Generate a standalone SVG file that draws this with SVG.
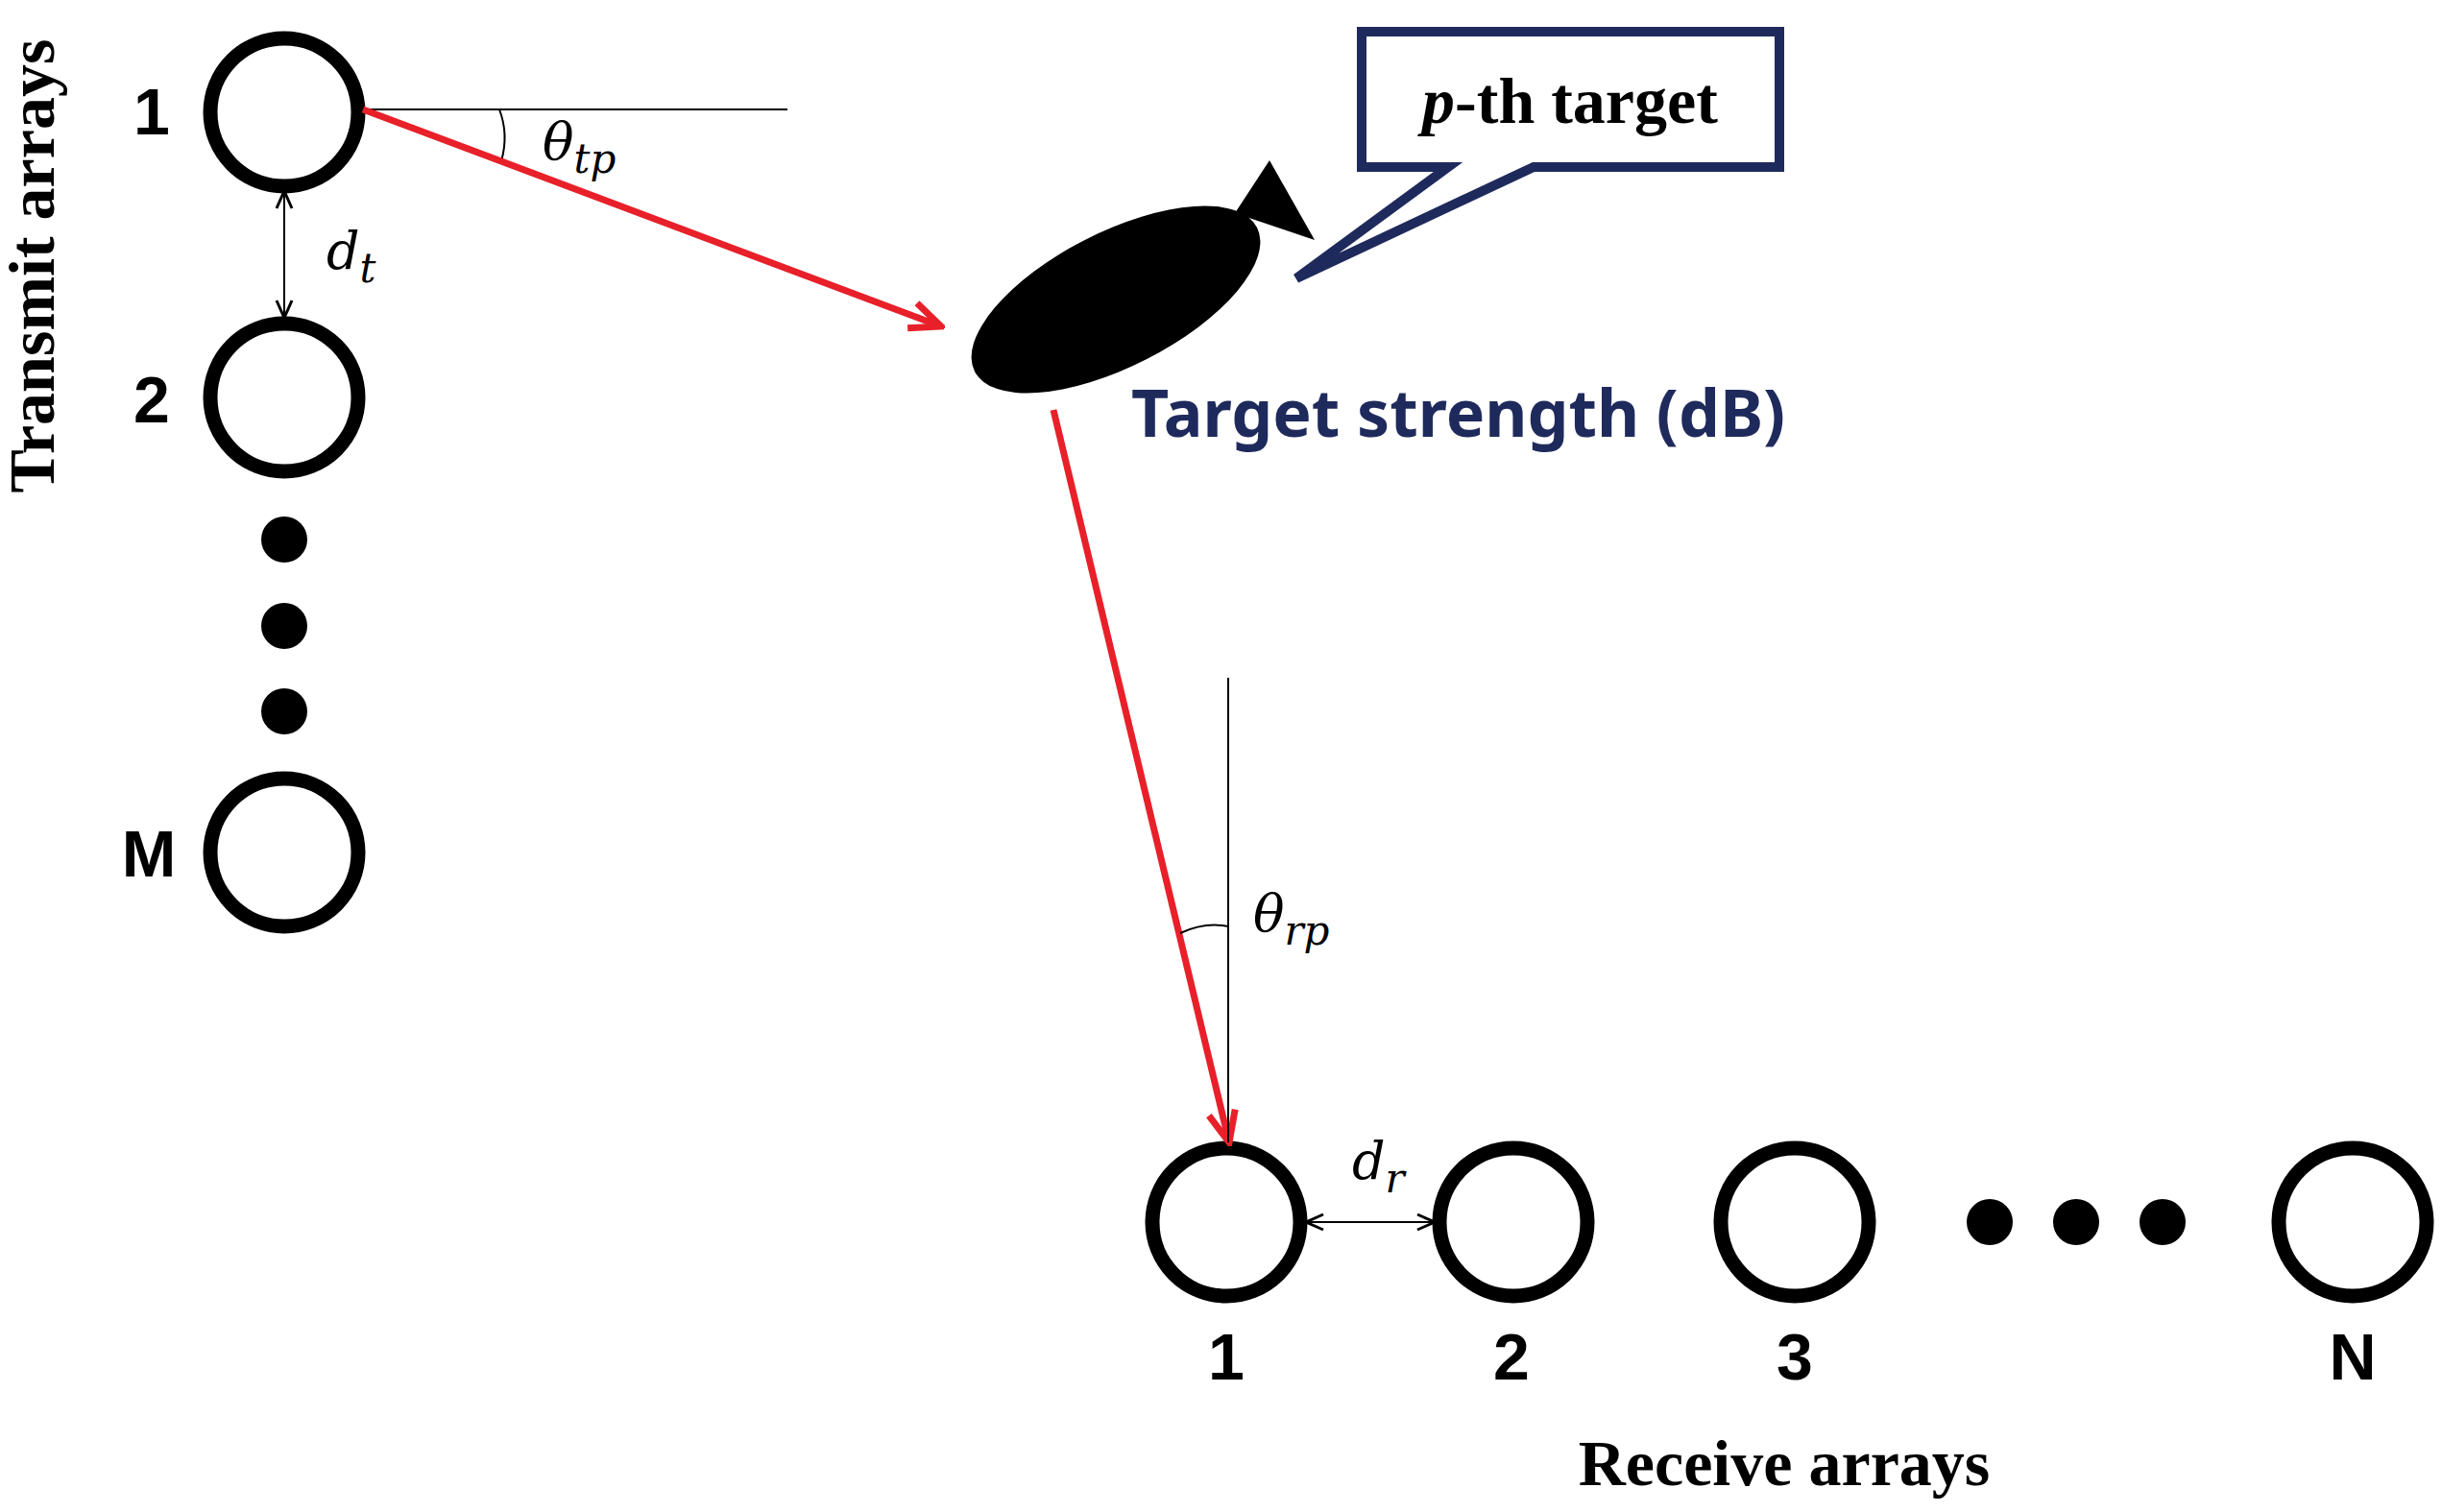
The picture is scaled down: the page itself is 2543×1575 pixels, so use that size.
<svg xmlns="http://www.w3.org/2000/svg" width="2543" height="1575" viewBox="0 0 2543 1575">
<style>
.ant{fill:none;stroke:#000;stroke-width:15}
.dot{fill:#000}
.num{font-family:"Liberation Sans",Arial,sans-serif;font-weight:bold;font-size:68px;text-anchor:middle}
.tm{font-family:"Liberation Serif","Times New Roman",serif;font-weight:bold;font-size:68px;text-anchor:middle}
.it{font-family:"DejaVu Serif","Liberation Serif",serif;font-style:italic;font-size:54px}
.thin{stroke:#000;stroke-width:2;fill:none}
.red{stroke:#e8202a;stroke-width:7;fill:none}
</style>
<defs>
<marker id="ba" markerWidth="22" markerHeight="22" refX="20" refY="11" orient="auto-start-reverse" markerUnits="userSpaceOnUse"><path d="M2,3 L20,11 L2,19" fill="none" stroke="#000" stroke-width="3"/></marker>
<marker id="rb" markerWidth="40" markerHeight="40" refX="36" refY="20" orient="auto" markerUnits="userSpaceOnUse"><path d="M4,6 L36,20 L4,34" fill="none" stroke="#e8202a" stroke-width="7"/></marker>
</defs>
<text class="tm" transform="translate(56,277) rotate(-90)">Transmit arrays</text>
<g id="tx1"><circle class="ant" cx="296" cy="117" r="77"/><text class="num" x="158" y="140">1</text></g>
<g id="tx2"><circle class="ant" cx="296" cy="414" r="77"/><text class="num" x="158" y="440">2</text></g>
<g id="txdots"><circle class="dot" cx="296" cy="562" r="24"/><circle class="dot" cx="296" cy="652" r="24"/><circle class="dot" cx="296" cy="741" r="24"/></g>
<g id="txM"><circle class="ant" cx="296" cy="888" r="77"/><text class="num" x="155" y="913">M</text></g>
<g id="target">
<ellipse cx="1162" cy="312" rx="165" ry="70" transform="rotate(-27 1162 312)" fill="#000"/>
<polygon points="1286,222 1322,167 1369,250" fill="#000"/>
</g>
<g id="callout">
<path d="M1418,33 H1853 V174 H1597 L1350,290 L1508,174 H1418 Z" fill="#fff" stroke="#1f2a5c" stroke-width="10"/>
<text x="1635" y="128" font-family="Liberation Serif,serif" font-weight="bold" font-size="68" text-anchor="middle"><tspan font-style="italic">p</tspan>-th target</text>
</g>
<text x="1178" y="455" font-family="Noto Sans,sans-serif" font-weight="bold" font-size="68" fill="#1f2a5c">Target strength (dB)</text>
<g id="rx1"><circle class="ant" cx="1277" cy="1273" r="77"/><text class="num" x="1277" y="1437">1</text></g>
<g id="rx2"><circle class="ant" cx="1576" cy="1273" r="77"/><text class="num" x="1574" y="1437">2</text></g>
<g id="rx3"><circle class="ant" cx="1869" cy="1273" r="77"/><text class="num" x="1869" y="1437">3</text></g>
<g id="rxdots"><circle class="dot" cx="2072" cy="1273" r="24"/><circle class="dot" cx="2162" cy="1273" r="24"/><circle class="dot" cx="2252" cy="1273" r="24"/></g>
<g id="rxN"><circle class="ant" cx="2450" cy="1273" r="77"/><text class="num" x="2450" y="1437">N</text></g>
<text class="tm" x="1858" y="1547">Receive arrays</text>
<g id="connectors">
<line class="thin" x1="378" y1="114" x2="820" y2="114"/>
<path class="thin" d="M520,114 Q530,140 522,168"/>
<line class="red" x1="378" y1="114" x2="980" y2="340" marker-end="url(#rb)"/>
<line class="thin" x1="296" y1="199" x2="296" y2="331" marker-start="url(#ba)" marker-end="url(#ba)" stroke-width="3"/>
<line class="red" x1="1097" y1="427" x2="1280" y2="1190" marker-end="url(#rb)"/>
<line class="thin" x1="1279" y1="706" x2="1279" y2="1190"/>
<path class="thin" d="M1229,972 Q1255,960 1279,965"/>
<line class="thin" x1="1360" y1="1273" x2="1494" y2="1273" marker-start="url(#ba)" marker-end="url(#ba)" stroke-width="3"/>
</g>
<text class="it" x="565" y="166">θ<tspan font-size="42" dy="14">tp</tspan></text>
<text class="it" x="340" y="280">d<tspan font-size="42" dy="14">t</tspan></text>
<text class="it" x="1305" y="970">θ<tspan font-size="42" dy="14">rp</tspan></text>
<text class="it" x="1408" y="1228">d<tspan font-size="42" dy="14">r</tspan></text>
</svg>
